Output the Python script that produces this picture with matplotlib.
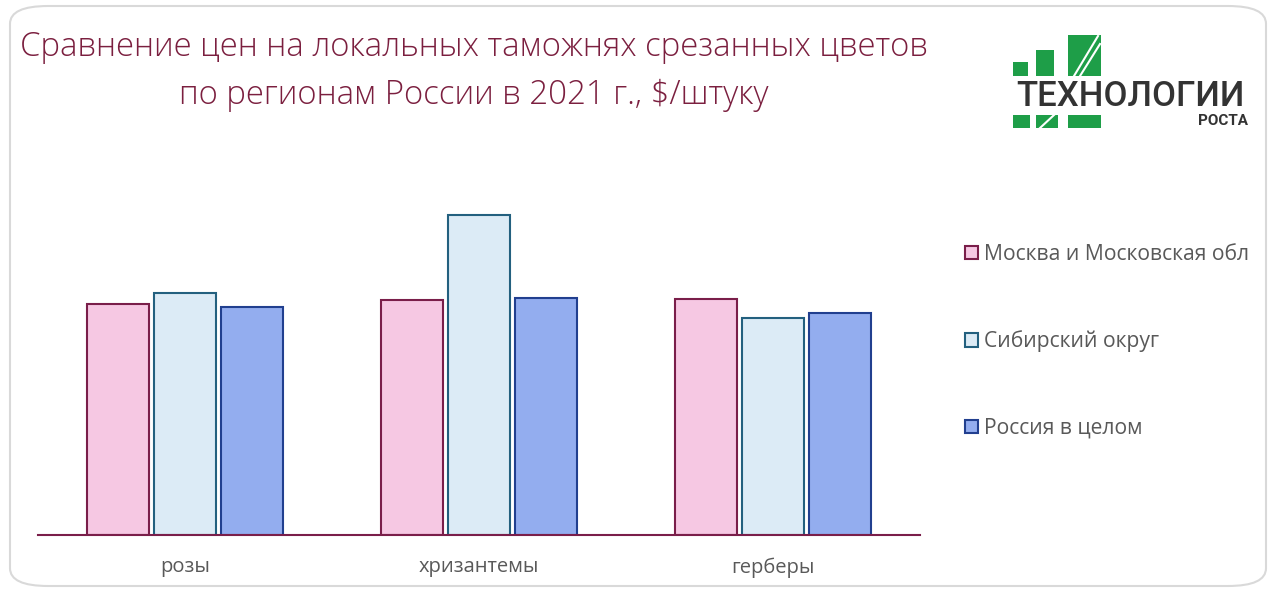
import matplotlib
matplotlib.use("Agg")
import matplotlib.pyplot as plt
from matplotlib.patches import FancyBboxPatch, Rectangle
import numpy as np

plt.rcParams['font.family'] = ['Open Sans', 'DejaVu Sans']

categories = ["розы", "хризантемы", "герберы"]
series_names = ["Москва и Московская обл", "Сибирский округ", "Россия в целом"]
moscow = [0.231, 0.235, 0.236]
siberia = [0.242, 0.320, 0.217]
russia = [0.228, 0.237, 0.222]
series_values = [moscow, siberia, russia]

fills = ["#F6C8E3", "#DCEBF6", "#93ADEF"]
edges = ["#7A1E4A", "#23607F", "#213F8F"]

W, H = 1274, 592
fig = plt.figure(figsize=(W / 100, H / 100), dpi=100)

# rounded frame
frame = FancyBboxPatch((10 / W, 6 / H), 1256 / W, 580 / H,
                       boxstyle="round,pad=0,rounding_size=0.03",
                       transform=fig.transFigure, facecolor="none",
                       edgecolor="#D9D9D9", linewidth=1.5, zorder=-1)
fig.patches.append(frame)

ax = fig.add_axes([38 / W, 1 - 535 / H, 882 / W, 340 / H])
ax.set_facecolor("none")
x = np.arange(len(categories))
width = 0.21
step = 0.228
for i, (vals, fc, ec, name) in enumerate(zip(series_values, fills, edges, series_names)):
    ax.bar(x + (i - 1) * step, vals, width, color=fc, edgecolor=ec,
           linewidth=1.5, label=name, zorder=2)

ax.set_xlim(-0.5, 2.5)
ax.set_ylim(0, 0.34)
ax.set_yticks([])
for s in ["top", "right", "left"]:
    ax.spines[s].set_visible(False)
ax.spines["bottom"].set_color("#7A1E4A")
ax.spines["bottom"].set_linewidth(1.5)
ax.set_xticks(x)
ax.set_xticklabels(categories, fontsize=14.5, color="#595959")
ax.tick_params(axis="x", length=0, pad=16)

leg = ax.legend(loc="upper left", bbox_to_anchor=(946 / W, 1 - 225 / H),
                bbox_transform=fig.transFigure, frameon=False,
                fontsize=15.2, labelspacing=3.1, handlelength=0.6,
                handleheight=0.6, handletextpad=0.3)
for t in leg.get_texts():
    t.set_color("#595959")

# title
title_color = "#7B1F3F"
fig.text(474 / W, 1 - 47 / H, "Сравнение цен на локальных таможнях срезанных цветов",
         ha="center", va="center", fontsize=23.7, color=title_color, fontweight="light")
fig.text(474 / W, 1 - 95 / H, "по регионам России в 2021 г., $/штуку",
         ha="center", va="center", fontsize=23.7, color=title_color, fontweight="light")

# logo
green = "#1E9E48"
def frect(x0, y0, x1, y1, color=green):
    fig.patches.append(Rectangle((x0 / W, 1 - y1 / H), (x1 - x0) / W, (y1 - y0) / H,
                                 transform=fig.transFigure, facecolor=color,
                                 edgecolor="none", zorder=5))
frect(1013, 62, 1028, 76)
frect(1036, 50, 1054, 76)
frect(1068, 35, 1101, 76)
frect(1013, 115, 1030, 128)
frect(1036, 115, 1058, 128)
frect(1068, 115, 1101, 128)
for (xa, ya, xb, yb) in [(1074, 76, 1098, 36), (1080, 76, 1100, 44), (1040, 128, 1054, 115)]:
    fig.add_artist(plt.Line2D([xa / W, xb / W], [1 - ya / H, 1 - yb / H],
                              transform=fig.transFigure, color="white",
                              linewidth=1.5, zorder=6))
fig.text(1130 / W, 1 - 96 / H, "ТЕХНОЛОГИИ", ha="center", va="center",
         fontsize=25, color="#333333", family=["Roboto", "DejaVu Sans"],
         fontweight="medium")
fig.text(1248 / W, 1 - 121 / H, "РОСТА", ha="right", va="center",
         fontsize=11, color="#333333", family=["Roboto", "DejaVu Sans"],
         fontweight="bold")

fig.savefig("out.png", dpi=100)
